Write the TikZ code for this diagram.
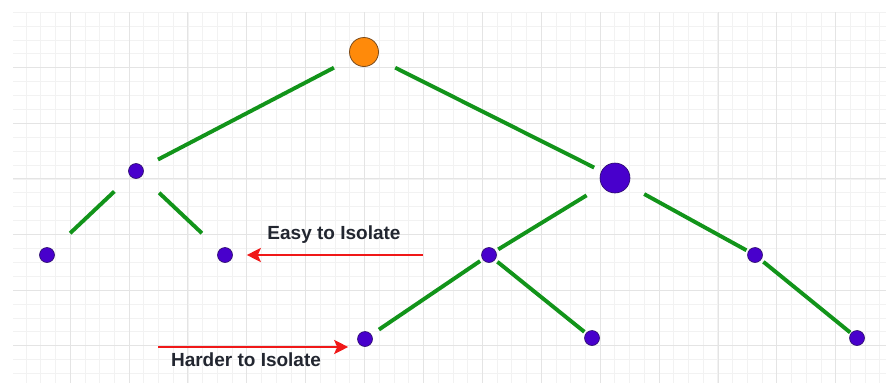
\documentclass[tikz,border=0pt]{standalone}
\usepackage{fontspec}
\setmainfont{Liberation Sans}
\usetikzlibrary{arrows.meta}
\definecolor{gmajor}{HTML}{E4E4E4}
\definecolor{gminor}{HTML}{F2F2F2}
\definecolor{edgegreen}{HTML}{12941A}
\definecolor{nodepurple}{HTML}{4800CC}
\definecolor{nodeborder}{HTML}{2A0A6A}
\definecolor{rootorange}{HTML}{FF8A0A}
\definecolor{rootborder}{HTML}{7A4A1A}
\definecolor{arrowred}{HTML}{F01818}
\definecolor{labeltext}{HTML}{222630}
\tikzset{
  leaf/.style={circle, fill=nodepurple, draw=nodeborder, line width=0.6pt, minimum size=15pt, inner sep=0pt},
  bigleaf/.style={leaf, minimum size=30pt},
  rootnode/.style={circle, fill=rootorange, draw=rootborder, line width=0.8pt, minimum size=29pt, inner sep=0pt},
  tedge/.style={draw=edgegreen, line width=3.9pt},
  redarrow/.style={draw=arrowred, line width=2.6pt, -{Stealth[length=14pt,width=14pt,inset=3pt]}},
  lbl/.style={font=\bfseries\fontsize{19}{21}\selectfont, text=labeltext, inner sep=0pt}
}
\begin{document}
\begin{tikzpicture}[x=1pt,y=-1pt]
\useasboundingbox (0,0) rectangle (886,383);
\fill[white] (0,0) rectangle (886,383);
% minor grid
\foreach \i in {0,...,59} {
  \pgfmathsetmacro{\xx}{11.2+14.72*\i}
  \ifdim\xx pt>13pt \draw[gminor, line width=0.6pt] (\xx,12) -- (\xx,383); \fi
}
\foreach \j in {0,...,26} {
  \pgfmathsetmacro{\yy}{12+13.9*\j}
  \draw[gminor, line width=0.6pt] (13,\yy) -- (886,\yy);
}
% major grid
\foreach \i in {1,...,15} {
  \pgfmathsetmacro{\xx}{11.2+58.9*\i}
  \draw[gmajor, line width=0.9pt] (\xx,12) -- (\xx,383);
}
\foreach \j in {1,...,6} {
  \pgfmathsetmacro{\yy}{12+55.6*\j}
  \draw[gmajor, line width=0.9pt] (13,\yy) -- (886,\yy);
}
% nodes
\node[rootnode] (root) at (364,52) {};
\node[leaf] (a) at (136,171) {};
\node[bigleaf] (b) at (615,178) {};
\node[leaf] (l1) at (47,255) {};
\node[leaf] (l2) at (225,255) {};
\node[leaf] (m) at (489,255) {};
\node[leaf] (r) at (755,255) {};
\node[leaf] (n1) at (365,339) {};
\node[leaf] (n2) at (592,338) {};
\node[leaf] (n3) at (857,338) {};
% edges
\draw[tedge, shorten <=19pt, shorten >=17pt] (root) -- (a);
\draw[tedge, shorten <=20pt, shorten >=8pt] (root) -- (b);
\draw[tedge, shorten <=22pt, shorten >=24pt] (a) -- (l1);
\draw[tedge, shorten <=24pt, shorten >=24pt] (a) -- (l2);
\draw[tedge, shorten <=18pt, shorten >=3pt] (b) -- (m);
\draw[tedge, shorten <=18pt, shorten >=2pt] (b) -- (r);
\draw[tedge, shorten <=3pt, shorten >=9pt] (m) -- (n1);
\draw[tedge, shorten <=3pt, shorten >=2pt] (m) -- (n2);
\draw[tedge, shorten <=3pt, shorten >=1pt] (r) -- (n3);
% arrows and labels
\coordinate (easystart) at (423,255);
\coordinate (hardstart) at (158,347);
\draw[redarrow, shorten >=14pt] (easystart) -- (l2);
\draw[redarrow, shorten >=9pt] (hardstart) -- (hardstart -| n1.west);
\node[lbl] (easy) at (334,235) {Easy to Isolate};
\node[lbl] (hard) at (246,360) {Harder to Isolate};
\end{tikzpicture}
\end{document}
